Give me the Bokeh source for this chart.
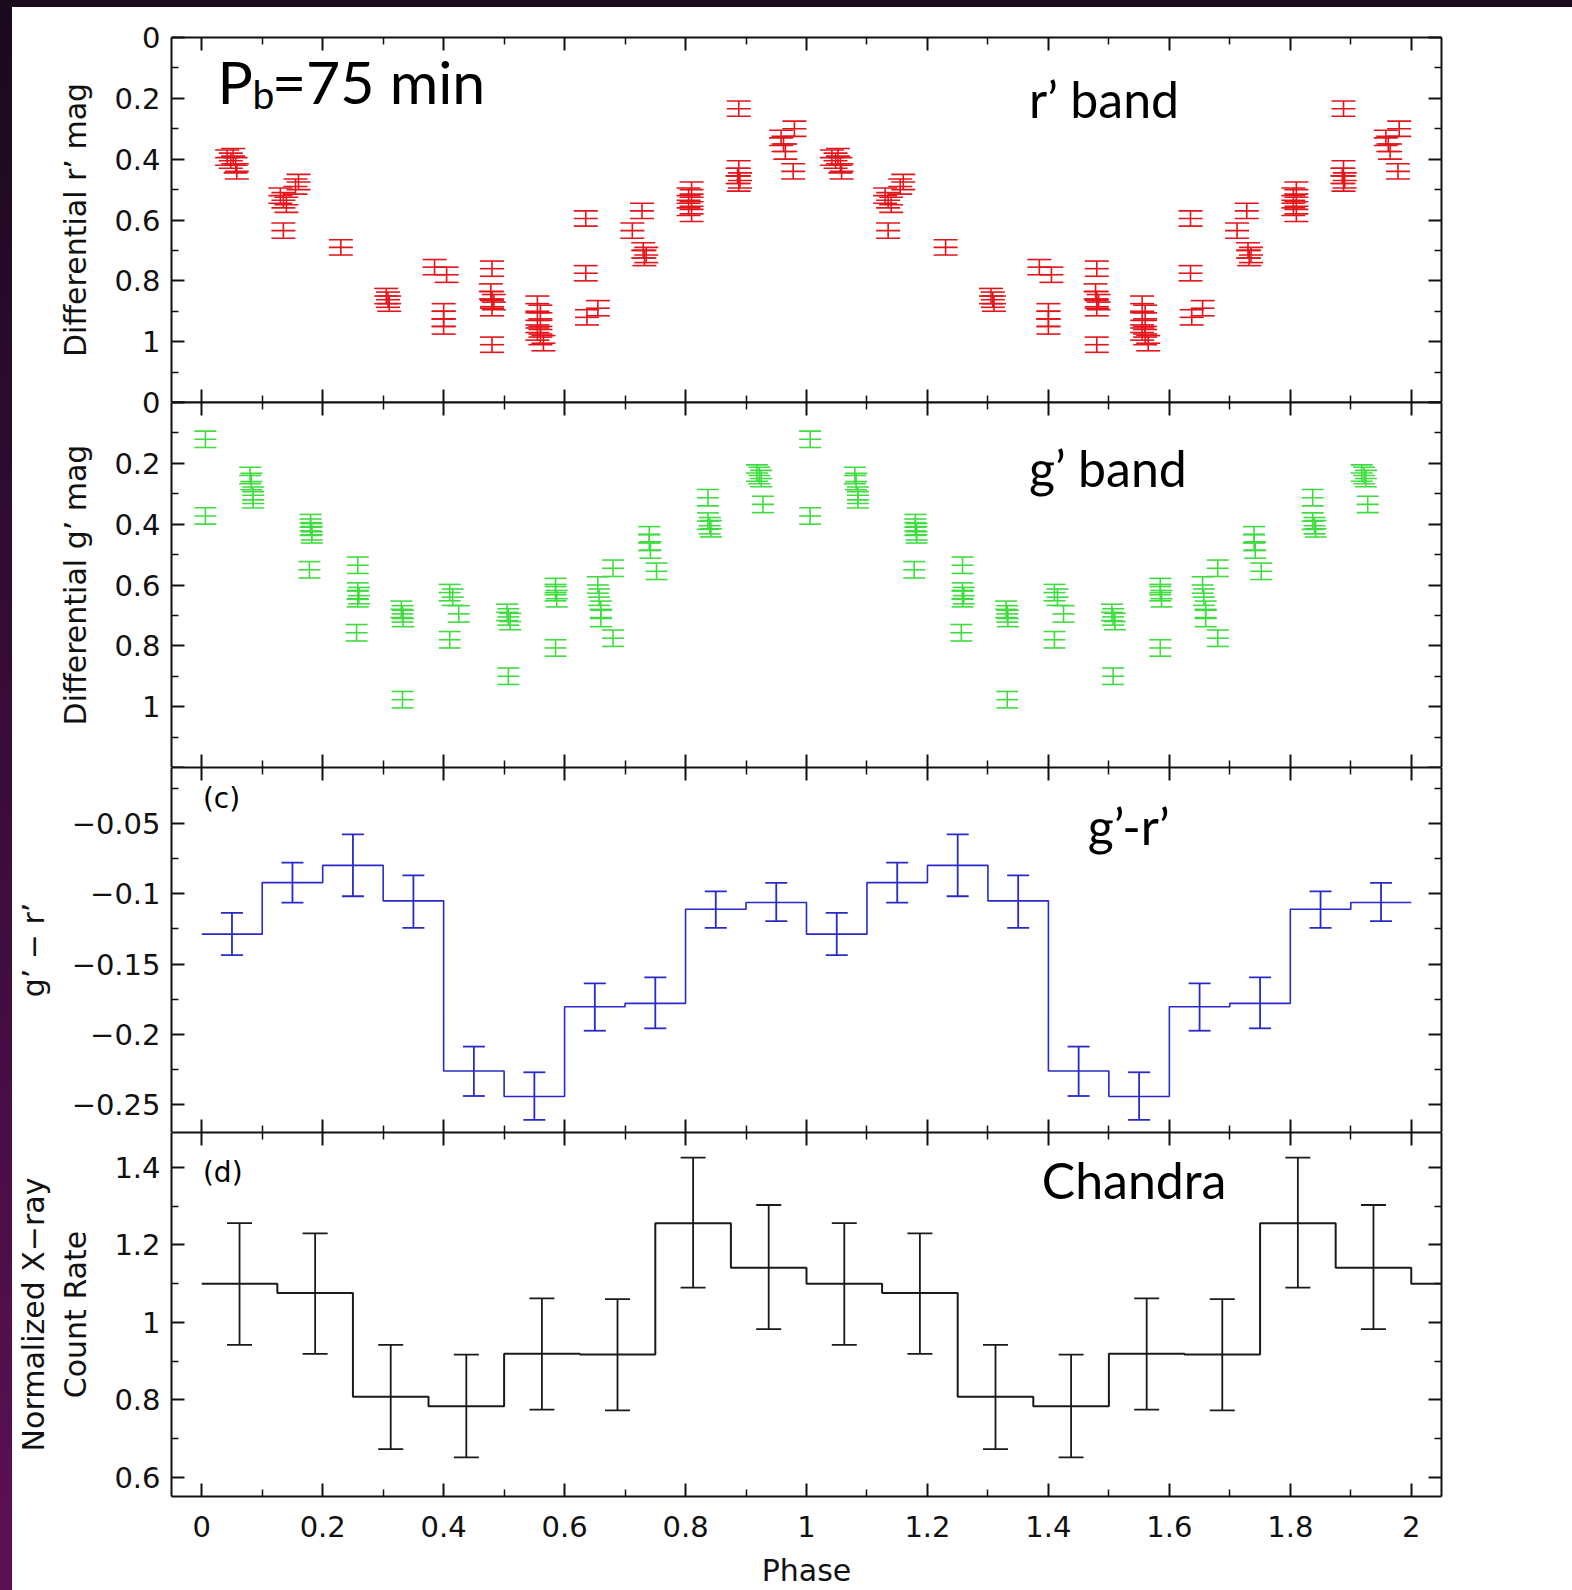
from bokeh.plotting import figure
from bokeh.models import (Range1d, LinearAxis, FixedTicker, CustomJSTickFormatter,
                          Label, ColumnDataSource, Div)
from bokeh.layouts import column, row
from bokeh.embed import file_html
from bokeh.resources import INLINE

# ---------------- data (one orbital cycle, plotted twice) ----------------
# r' band differential magnitude
R_PHASE = [0.042, 0.048, 0.052, 0.056, 0.058,
           0.130, 0.135, 0.140, 0.155, 0.160, 0.135,
           0.230,
           0.305, 0.308, 0.310,
           0.385, 0.405, 0.400, 0.400, 0.400,
           0.480, 0.478, 0.480, 0.483, 0.480, 0.480,
           0.555, 0.560, 0.555, 0.560, 0.555, 0.560, 0.565,
           0.635, 0.635, 0.637, 0.655,
           0.728, 0.712, 0.730, 0.735, 0.732,
           0.810, 0.805, 0.810, 0.805, 0.810,
           0.888, 0.888, 0.886, 0.890, 0.888,
           0.980, 0.958, 0.962, 0.965, 0.978]
R_MAG = [0.395, 0.405, 0.390, 0.420, 0.440,
         0.520, 0.535, 0.550, 0.490, 0.475, 0.635,
         0.690,
         0.850, 0.862, 0.875,
         0.755, 0.780, 0.900, 0.925, 0.950,
         0.760, 0.835, 0.860, 0.870, 0.890, 1.010,
         0.875, 0.905, 0.930, 0.950, 0.970, 0.985, 1.005,
         0.595, 0.775, 0.920, 0.890,
         0.570, 0.635, 0.700, 0.715, 0.725,
         0.500, 0.520, 0.540, 0.560, 0.580,
         0.234, 0.430, 0.455, 0.470, 0.480,
         0.300, 0.330, 0.350, 0.375, 0.440]
R_ERR = 0.025

# g' band differential magnitude
G_PHASE = [0.006, 0.006,
           0.080, 0.082, 0.085, 0.085,
           0.180, 0.180, 0.182, 0.182, 0.178,
           0.258, 0.258, 0.260, 0.258, 0.256,
           0.330, 0.332, 0.333, 0.332,
           0.410, 0.415, 0.425, 0.410,
           0.505, 0.507, 0.510, 0.507,
           0.585, 0.585, 0.587, 0.585,
           0.655, 0.657, 0.660, 0.660, 0.680, 0.680,
           0.740, 0.740, 0.742, 0.752,
           0.837, 0.837, 0.840, 0.842,
           0.918, 0.922, 0.925, 0.928]
G_MAG = [0.121, 0.373,
         0.240, 0.260, 0.305, 0.320,
         0.395, 0.410, 0.425, 0.435, 0.550,
         0.535, 0.620, 0.635, 0.645, 0.757,
         0.680, 0.695, 0.710, 0.977,
         0.625, 0.640, 0.695, 0.780,
         0.690, 0.705, 0.720, 0.900,
         0.605, 0.625, 0.645, 0.807,
         0.600, 0.640, 0.680, 0.710, 0.545, 0.775,
         0.435, 0.460, 0.485, 0.555,
         0.313, 0.390, 0.405, 0.415,
         0.232, 0.240, 0.250, 0.335]
G_ERR = 0.027

# g' - r' colour, 10 phase bins
C_PHASE = [0.05, 0.15, 0.25, 0.35, 0.45, 0.55, 0.65, 0.75, 0.85, 0.95]
C_VAL = [-0.1287, -0.0920, -0.0797, -0.1050, -0.2262, -0.2444, -0.1804, -0.1780, -0.1110, -0.1062]
C_HI = [-0.1136, -0.0777, -0.0576, -0.0868, -0.2088, -0.2271, -0.1638, -0.1595, -0.0982, -0.0922]
C_LO = [-0.1437, -0.1062, -0.1017, -0.1242, -0.2440, -0.2610, -0.1975, -0.1958, -0.1242, -0.1195]
C_WIDTH = 0.1

# Chandra normalized X-ray count rate, 8 phase bins
X_PHASE = [0.0625, 0.1875, 0.3125, 0.4375, 0.5625, 0.6875, 0.8125, 0.9375]
X_RATE = [1.100, 1.076, 0.808, 0.784, 0.919, 0.917, 1.256, 1.141]
X_HI = [1.256, 1.230, 0.942, 0.917, 1.062, 1.060, 1.425, 1.303]
X_LO = [0.942, 0.919, 0.673, 0.652, 0.775, 0.773, 1.090, 0.983]
X_WIDTH = 0.125

# ticks
PH_MAJOR = [0, 0.2, 0.4, 0.6, 0.8, 1.0, 1.2, 1.4, 1.6, 1.8, 2.0]
PH_MINOR = [0.1, 0.3, 0.5, 0.7, 0.9, 1.1, 1.3, 1.5, 1.7, 1.9]
MAG_MAJOR = [0, 0.2, 0.4, 0.6, 0.8, 1.0, 1.2]
MAG_MINOR = [0.1, 0.3, 0.5, 0.7, 0.9, 1.1]
COL_MAJOR = [-0.25, -0.2, -0.15, -0.1, -0.05]
COL_MINOR = [-0.275, -0.225, -0.175, -0.125, -0.075, -0.025]
XR_MAJOR = [0.6, 0.8, 1.0, 1.2, 1.4]
XR_MINOR = [0.7, 0.9, 1.1, 1.3]

# ---------------- styling ----------------
FONT = "DejaVu Sans"
ANN_FONT = "Lato"
AX_COL = "#111111"
RED = "#e3141a"
GREEN = "#3fdc3f"
BLUE = "#2a2ac8"
BLACK = "#1a1a1a"

STRIPE_W = 12
TOP_BAND = 7
W = 1572 - STRIPE_W
LEFT = 170 - STRIPE_W
FRAME_W = 1271
RIGHT = W - LEFT - FRAME_W
FRAME_H = 365
OVERLAP = 22


def two_cycles(vals, shift=False):
    return list(vals) + [v + 1 for v in vals] if shift else list(vals) + list(vals)


def fmt(special=1e9, special_label=""):
    return CustomJSTickFormatter(args=dict(sp=special, sl=special_label), code="""
        if (Math.abs(tick - sp) < 1e-9) { return sl; }
        const s = (Math.round(Math.abs(tick) * 1000) / 1000).toString();
        return (tick < -1e-9 ? "\u2212" : "") + s;
    """)


def add_axis(p, place, ticks, minor, formatter=None, label=None,
             label_standoff=18, tick_standoff=11):
    ax = LinearAxis(ticker=FixedTicker(ticks=ticks, minor_ticks=minor))
    ax.axis_line_color = AX_COL
    ax.axis_line_width = 2
    ax.major_tick_line_color = AX_COL
    ax.major_tick_line_width = 2
    ax.minor_tick_line_color = AX_COL
    ax.minor_tick_line_width = 1.5
    ax.major_tick_in = 13
    ax.major_tick_out = 0
    ax.minor_tick_in = 7
    ax.minor_tick_out = 0
    if formatter is not None:
        ax.formatter = formatter
        ax.major_label_text_font = FONT
        ax.major_label_text_font_size = "29px"
        ax.major_label_text_color = AX_COL
        ax.major_label_standoff = tick_standoff
    else:
        ax.formatter = CustomJSTickFormatter(code="return '';")
        ax.major_label_text_font_size = "0px"
        ax.major_label_standoff = 0
    if label:
        ax.axis_label = label
        ax.axis_label_text_font = FONT
        ax.axis_label_text_font_size = "30px"
        ax.axis_label_text_font_style = "normal"
        ax.axis_label_text_color = AX_COL
        ax.axis_label_standoff = label_standoff
    p.add_layout(ax, place)
    return ax


def make_fig(y_range, top=0, bottom=0):
    p = figure(width=W, height=FRAME_H + top + bottom,
               x_range=Range1d(-0.05, 2.05), y_range=y_range,
               x_axis_location=None, y_axis_location=None,
               toolbar_location=None, output_backend="svg",
               min_border_left=LEFT, min_border_right=RIGHT,
               min_border_top=top, min_border_bottom=bottom,
               outline_line_color=None,
               background_fill_color="white", border_fill_color="white")
    p.xgrid.visible = False
    p.ygrid.visible = False
    return p


def err_points(p, xs, ys, err, color, cap):
    src = ColumnDataSource(dict(x=xs, y=ys,
                                lo=[v - err for v in ys], hi=[v + err for v in ys]))
    p.segment(x0="x", y0="lo", x1="x", y1="hi", source=src,
              line_color=color, line_width=1.6)
    for col in ("lo", "y", "hi"):
        p.scatter(x="x", y=col, marker="dash", size=cap, source=src,
                  line_color=color, line_width=1.6)


def err_bins(p, xs, lo, hi, color, cap, lw):
    src = ColumnDataSource(dict(x=xs, lo=lo, hi=hi))
    p.segment(x0="x", y0="lo", x1="x", y1="hi", source=src,
              line_color=color, line_width=lw)
    for col in ("lo", "hi"):
        p.scatter(x="x", y=col, marker="dash", size=cap, source=src,
                  line_color=color, line_width=lw)


def ann(p, x, y, text, size, font=ANN_FONT):
    p.add_layout(Label(x=x, y=y, text=text, text_font=font, text_font_size=size,
                       text_color="#000000", text_baseline="alphabetic",
                       text_align="left"))


# ---------------- panel 1: r' ----------------
p1 = make_fig(Range1d(1.2, 0), top=37 - TOP_BAND)
add_axis(p1, "left", MAG_MAJOR, MAG_MINOR, formatter=fmt(1.2, ""),
         label="Differential r\u2019 mag")
add_axis(p1, "right", MAG_MAJOR, MAG_MINOR)
add_axis(p1, "above", PH_MAJOR, PH_MINOR)
add_axis(p1, "below", PH_MAJOR, PH_MINOR)
err_points(p1, two_cycles(R_PHASE, True), two_cycles(R_MAG), R_ERR, RED, 24)
ann(p1, 0.026, 0.144, "P", "59px")
ann(p1, 0.084, 0.187, "b", "39px")
ann(p1, 0.116, 0.144, "=75 min", "59px")
ann(p1, 1.368, 0.202, "r\u2019 band", "50px")

# ---------------- panel 2: g' (top border overlaps panel 1 transparently) ----
p2 = make_fig(Range1d(1.2, 0), top=OVERLAP)
p2.border_fill_alpha = 0
p2.margin = (-OVERLAP, 0, 0, 0)
add_axis(p2, "left", MAG_MAJOR, MAG_MINOR, formatter=fmt(1.2, ""),
         label="Differential g\u2019 mag")
add_axis(p2, "right", MAG_MAJOR, MAG_MINOR)
add_axis(p2, "above", PH_MAJOR, PH_MINOR)
add_axis(p2, "below", PH_MAJOR, PH_MINOR)
err_points(p2, two_cycles(G_PHASE, True), two_cycles(G_MAG), G_ERR, GREEN, 22)
ann(p2, 1.368, 0.216, "g\u2019 band", "50px")

# ---------------- panel 3: g' - r' ----------------
p3 = make_fig(Range1d(-0.27, -0.01))
add_axis(p3, "left", COL_MAJOR, COL_MINOR, formatter=fmt(), label="g\u2019 \u2212 r\u2019")
add_axis(p3, "right", COL_MAJOR, COL_MINOR)
add_axis(p3, "above", PH_MAJOR, PH_MINOR)
add_axis(p3, "below", PH_MAJOR, PH_MINOR)
c_ph = two_cycles(C_PHASE, True)
c_val = two_cycles(C_VAL)
c_edges = [c - C_WIDTH / 2 for c in c_ph] + [c_ph[-1] + C_WIDTH / 2]
p3.step(x=c_edges, y=c_val + [c_val[-1]], mode="after", line_color=BLUE, line_width=1.6)
err_bins(p3, c_ph, two_cycles(C_LO), two_cycles(C_HI), BLUE, 22, 1.8)
ann(p3, 0.002, -0.0322, "(c)", "28px", FONT)
ann(p3, 1.465, -0.0514, "g\u2019-r\u2019", "50px")

# ---------------- panel 4: Chandra ----------------
BOTTOM = 1590 - 37 - 4 * FRAME_H
p4 = make_fig(Range1d(0.551, 1.49), bottom=BOTTOM)
add_axis(p4, "left", XR_MAJOR, XR_MINOR, formatter=fmt(),
         label="Normalized X\u2212ray\nCount Rate")
add_axis(p4, "right", XR_MAJOR, XR_MINOR)
add_axis(p4, "above", PH_MAJOR, PH_MINOR)
add_axis(p4, "below", PH_MAJOR, PH_MINOR, formatter=fmt(), label="Phase",
         label_standoff=13, tick_standoff=19)
x_ph = two_cycles(X_PHASE, True)
x_rate = two_cycles(X_RATE)
x_ph_line = x_ph + [X_PHASE[0] + 2]
x_rate_line = x_rate + [X_RATE[0]]
x_edges = [c - X_WIDTH / 2 for c in x_ph_line] + [x_ph_line[-1] + X_WIDTH / 2]
p4.step(x=x_edges, y=x_rate_line + [x_rate_line[-1]], mode="after",
        line_color=BLACK, line_width=2)
err_bins(p4, x_ph, two_cycles(X_LO), two_cycles(X_HI), BLACK, 25, 1.8)
ann(p4, 0.002, 1.386, "(d)", "28px", FONT)
ann(p4, 1.389, 1.367, "Chandra", "50px")

# dark slide frame around the figure
top_band = Div(text="", width=1572, height=TOP_BAND, margin=0,
               styles={"background-color": "#1a0a1e"})
left_stripe = Div(text="", width=STRIPE_W, height=1590 - TOP_BAND, margin=0,
                  styles={"background": "linear-gradient(to bottom, #1a0a1e, #3b0c3b 50%, #5c1054)"})

layout = column(top_band, row(left_stripe, column(p1, p2, p3, p4)))
open("out.html", "w").write(file_html(layout, INLINE))
